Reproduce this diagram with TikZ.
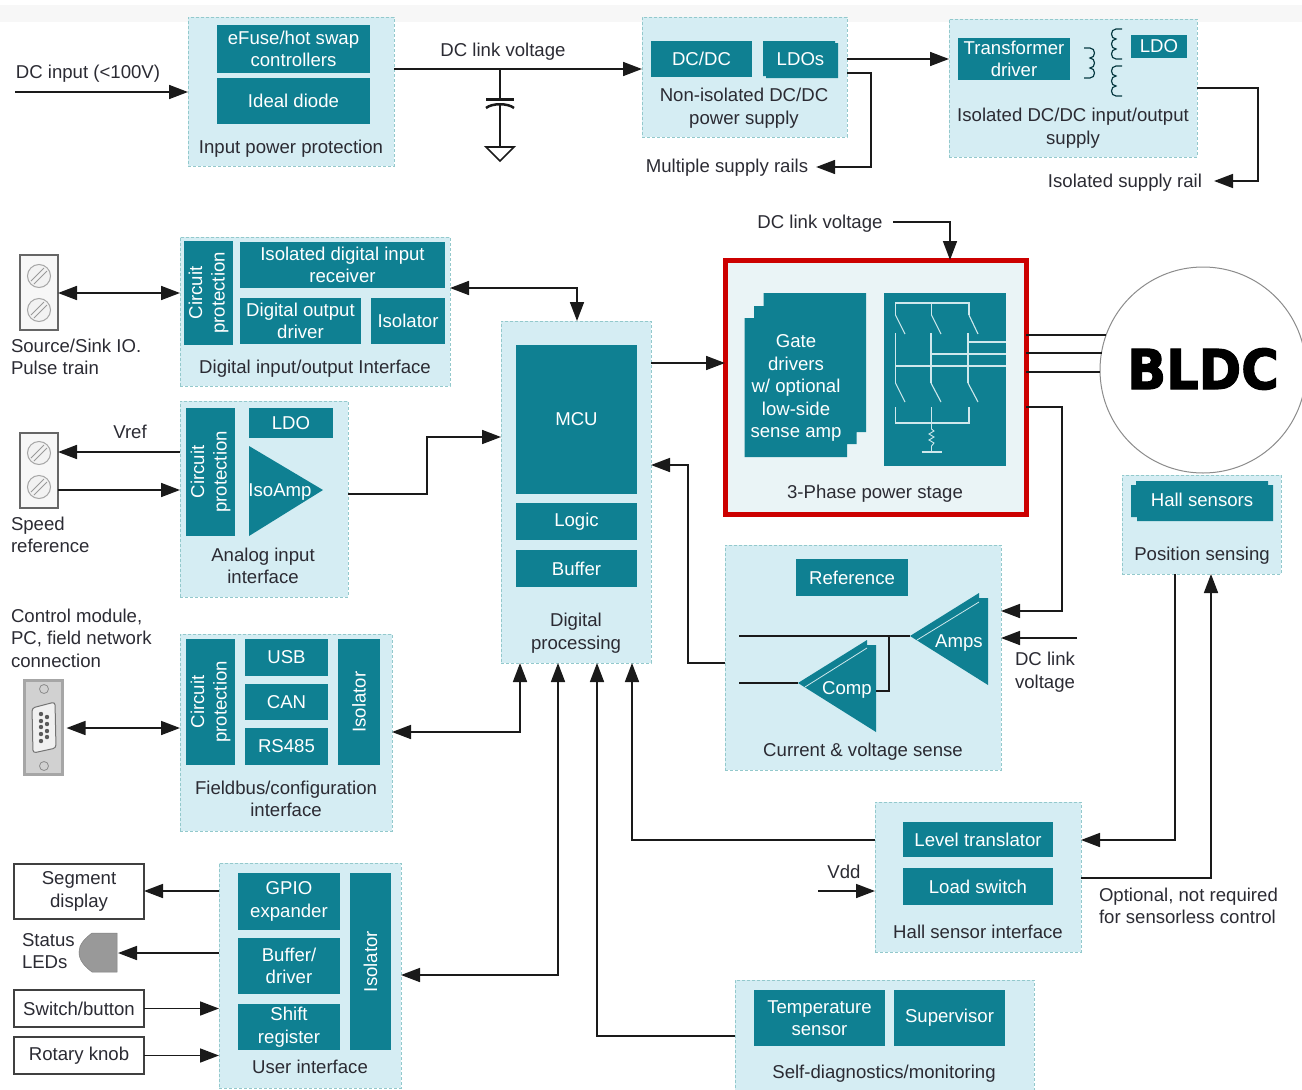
\documentclass[tikz,border=0pt]{standalone}
\usepackage{fontspec}
\setmainfont{Liberation Sans}
\newfontfamily\heavyfont[BoldFeatures={FakeBold=2.2}]{DejaVu Sans}
\usetikzlibrary{arrows.meta,calc}
\definecolor{tealc}{HTML}{0F8092}
\definecolor{grpfill}{HTML}{D5EDF3}
\definecolor{grpline}{HTML}{93C9CC}
\definecolor{txt}{HTML}{2B2B33}
\definecolor{wire}{HTML}{1A1A1A}
\definecolor{thinc}{HTML}{CFE8EC}
\tikzset{
  base/.style={inner sep=0pt,outer sep=0pt,align=center,font=\fontsize{18.6}{22.5}\selectfont},
  grp/.style={base,fill=grpfill,draw=grpline,dash pattern=on 3pt off 2pt,line width=.9pt},
  tbox/.style={base,fill=tealc,text=white},
  tlabel/.style={base,text=white},
  capt/.style={base,text=txt},
  lcapt/.style={base,text=txt,anchor=west,align=left},
  wbox/.style={base,text=txt,fill=white,draw=black!75,line width=1.2pt},
  conn/.style={draw=wire,line width=1.7pt},
  ar/.style={conn,-{Triangle[length=19pt,width=14pt]}},
  ara/.style={conn,{Triangle[length=19pt,width=14pt]}-{Triangle[length=19pt,width=14pt]}},
  swl/.style={draw=thinc,line width=1.1pt},
  coil/.style={draw=black!55!tealc,line width=1.2pt},
}
\newcommand{\mybox}[7]{%
  \pgfmathsetmacro\bw{#5-#3}\pgfmathsetmacro\bh{#6-#4}%
  \pgfmathsetmacro\bx{(#3+#5)/2}\pgfmathsetmacro\by{(#4+#6)/2}%
  \node[#1,minimum width=\bw pt,minimum height=\bh pt] (#2) at (\bx,\by) {#7};}
\newcommand{\rotbox}[7]{%
  \pgfmathsetmacro\bw{#5-#3}\pgfmathsetmacro\bh{#6-#4}%
  \pgfmathsetmacro\bx{(#3+#5)/2}\pgfmathsetmacro\by{(#4+#6)/2}%
  \node[#1,rotate=90,minimum width=\bh pt,minimum height=\bw pt] (#2) at (\bx,\by) {#7};}
\newcommand{\screw}[2]{%
  \draw[black!35,fill=black!5,line width=1pt] (#1,#2) circle (11.5);
  \draw[black!40,line width=.9pt] (#1-8,#2+5) -- (#1+5,#2-8) (#1-5,#2+8) -- (#1+8,#2-5);}
% three-bump windings, bulging to the right (R) or to the left (L)
\newcommand{\coilR}[2]{%
  \draw[coil] (#1,#2) -- (#1+6,#2) .. controls (#1+12,#2) and (#1+12,#2+10) .. (#1+6,#2+10)
    .. controls (#1+12,#2+10) and (#1+12,#2+20) .. (#1+6,#2+20)
    .. controls (#1+12,#2+20) and (#1+12,#2+30) .. (#1+6,#2+30) -- (#1,#2+30);}
\newcommand{\coilL}[2]{%
  \draw[coil] (#1,#2) -- (#1-6,#2) .. controls (#1-12,#2) and (#1-12,#2+10) .. (#1-6,#2+10)
    .. controls (#1-12,#2+10) and (#1-12,#2+20) .. (#1-6,#2+20)
    .. controls (#1-12,#2+20) and (#1-12,#2+30) .. (#1-6,#2+30) -- (#1,#2+30);}
\begin{document}
\begin{tikzpicture}[x=1pt,y=-1pt]
\useasboundingbox (0,0) rectangle (1302,1090);
\fill[black!3] (0,5) rectangle (1302,22);

% ---------- groups
\mybox{grp}{gInput}{188}{17}{394}{166}{}
\mybox{grp}{gNon}{642}{17}{847}{137}{}
\mybox{grp}{gIso}{949}{19}{1197}{157}{}
\mybox{grp}{gDio}{180}{237}{450}{386}{}
\mybox{grp}{gAna}{180}{401}{348}{597}{}
\mybox{grp}{gField}{180}{634}{392}{831}{}
\mybox{grp}{gUser}{219}{863}{401}{1088}{}
\mybox{grp}{gProc}{501}{321}{651}{663}{}
\mybox{grp}{gPos}{1122}{475}{1281}{574}{}
\mybox{grp}{gSense}{725}{545}{1001}{770}{}
\mybox{grp}{gHall}{875}{802}{1081}{952}{}
\mybox{grp}{gDiag}{735}{980}{1034}{1092}{}
\mybox{base,fill={rgb,255:red,234;green,244;blue,246},draw={rgb,255:red,204;green,0;blue,0},line width=5pt}{gPower}{725}{260}{1026}{514}{}

% ---------- input protection
\mybox{tbox}{efuse}{217}{25}{370}{73}{eFuse/hot swap\\controllers}
\mybox{tbox}{diode}{217}{78}{370}{124}{Ideal diode}
\node[capt] (cInput) at (291,149) {Input power protection};

% ---------- non-isolated
\mybox{tbox}{dcdc}{651}{41}{752}{77}{DC/DC}
\fill[tealc] (763,41) -- (835,41) -- (835,43) -- (838,43) -- (838,78) -- (766,78) -- (766,76) -- (763,76) -- cycle;
\mybox{tlabel}{ldos}{763}{41}{838}{77}{LDOs}
\node[capt] (cNon) at (744,108) {Non-isolated DC/DC\\power supply};

% ---------- isolated
\mybox{tbox}{tdrv}{958}{38}{1070}{80}{Transformer\\driver}
\mybox{tbox}{ldoi}{1131}{35}{1187}{58}{LDO}
\coilR{1084}{48}
\coilL{1122}{29}
\coilL{1122}{66}
\node[capt] (cIso) at (1073,128) {Isolated DC/DC input/output\\supply};

% ---------- digital IO
\rotbox{tbox}{cp1}{184}{241}{233}{345}{Circuit\\protection}
\mybox{tbox}{isodig}{240}{242}{445}{288}{Isolated digital input\\receiver}
\mybox{tbox}{dod}{240}{298}{361}{344}{Digital output\\driver}
\mybox{tbox}{isol1}{371}{298}{445}{344}{Isolator}
\node[capt] (cDio) at (315,369) {Digital input/output Interface};

% ---------- analog
\rotbox{tbox}{cp2}{186}{408}{235}{536}{Circuit\\protection}
\mybox{tbox}{ldoa}{249}{408}{333}{438}{LDO}
\fill[tealc] (249,446) -- (323,490) -- (249,536) -- cycle;
\node[tlabel] (isoamp) at (280,492) {IsoAmp};
\node[capt] (cAna) at (263,566) {Analog input\\interface};

% ---------- fieldbus
\rotbox{tbox}{cp3}{186}{639}{235}{765}{Circuit\\protection}
\mybox{tbox}{usb}{245}{639}{328}{676}{USB}
\mybox{tbox}{can}{245}{684}{328}{720}{CAN}
\mybox{tbox}{rs}{245}{728}{328}{765}{RS485}
\rotbox{tbox}{isol2}{338}{639}{380}{765}{Isolator}
\node[capt] (cField) at (286,799) {Fieldbus/configuration\\interface};

% ---------- user
\mybox{tbox}{gpio}{238}{873}{340}{930}{GPIO\\expander}
\mybox{tbox}{buf}{238}{938}{340}{994}{Buffer/\\driver}
\mybox{tbox}{shift}{238}{1004}{340}{1050}{Shift\\register}
\rotbox{tbox}{isol3}{350}{873}{391}{1050}{Isolator}
\node[capt] (cUser) at (310,1067) {User interface};

% ---------- processing
\mybox{tbox}{mcu}{516}{345}{637}{494}{MCU}
\mybox{tbox}{logic}{516}{503}{637}{540}{Logic}
\mybox{tbox}{buffer}{516}{550}{637}{587}{Buffer}
\node[capt] (cProc) at (576,633) {Digital\\processing};

% ---------- power stage
\fill[tealc] (763.5,293) -- (866,293) -- (866,432) -- (856.5,432) -- (856.5,444) -- (847,444) -- (847,457) -- (744.5,457) -- (744.5,318) -- (754,318) -- (754,306) -- (763.5,306) -- cycle;
\node[tlabel] (gate) at (796,388) {Gate\\drivers\\w/ optional\\low-side\\sense amp};
\mybox{tbox}{bridge}{884}{293}{1006}{466}{}
\draw[swl] (895.5,315) -- (895.5,303) -- (969,303) -- (969,315) (931.5,303) -- (931.5,315);
\draw[swl] (895.5,315) -- (905,334) (931.5,315) -- (941,334) (969,315) -- (978,334);
\draw[swl] (895.5,333) -- (895.5,383) (931,333) -- (931,383) (968,333) -- (968,383);
\draw[swl] (895.5,366) -- (1006,366) (931,354) -- (1006,354) (968,342) -- (1006,342);
\draw[swl] (895.5,383) -- (905,402) (931,383) -- (941,402) (968,383) -- (978,402);
\draw[swl] (895.5,407) -- (895.5,423) -- (969,423) -- (969,407) (931.5,407) -- (931.5,429);
\draw[swl,line width=.9pt] (931.5,429) -- (934,431) -- (929,434) -- (934,437) -- (929,440) -- (934,443) -- (931.5,446) -- (931.5,452);
\draw[swl,line width=1.4pt] (921.5,452) -- (941.5,452);
\node[capt] (cPower) at (875,494) {3-Phase power stage};

% ---------- motor
\begin{scope}
\clip (1090,250) rectangle (1302,490);
\node[circle,draw=black!45,line width=1pt,fill=white,minimum size=206pt,inner sep=0pt,outer sep=0pt] (motor) at (1203,370) {};
\end{scope}
\node[base,text=black,font=\heavyfont\bfseries\fontsize{55}{55}\selectfont,xscale=.93] (bldc) at (1203,369) {BLDC};

% ---------- position
\fill[tealc] (1136,481) -- (1268,481) -- (1268,485) -- (1273,485) -- (1273,521) -- (1137,521) -- (1137,517) -- (1131,517) -- (1131,485) -- (1136,485) -- cycle;
\node[tlabel] (hall) at (1202,500) {Hall sensors};
\node[capt] (cPos) at (1202,556) {Position sensing};

% ---------- sense
\mybox{tbox}{refb}{796}{559}{908}{596}{Reference}
\fill[tealc] (910,636) -- (979,593) -- (979,598) -- (988,598) -- (988,685) -- cycle;
\draw[swl,line width=.8pt] (917,640) -- (979,602);
\fill[tealc] (798,683) -- (867,640) -- (867,645) -- (876,645) -- (876,732) -- cycle;
\draw[swl,line width=.8pt] (805,687) -- (867,648);
\node[tlabel] (amps) at (959,643) {Amps};
\node[tlabel] (comp) at (847,690) {Comp};
\node[capt] (cSense) at (863,752) {Current \& voltage sense};
\coordinate (ampTip) at (910,636);
\coordinate (compTip) at (798,683);
\coordinate (compOut) at (876,691);
\coordinate (ampIn) at (739,636);
\coordinate (compIn) at (739,683);
\coordinate (tapUp) at (889,636);

% ---------- hall interface
\mybox{tbox}{level}{903}{822}{1053}{857}{Level translator}
\mybox{tbox}{load}{903}{868}{1053}{905}{Load switch}
\node[capt] (cHall) at (978,932) {Hall sensor interface};

% ---------- diagnostics
\mybox{tbox}{temp}{754}{990}{885}{1046}{Temperature\\sensor}
\mybox{tbox}{sup}{894}{990}{1005}{1046}{Supervisor}
\node[capt] (cDiag) at (884,1074) {Self-diagnostics/monitoring};

% ---------- free labels
\node[capt] (lDcIn) at (88,74) {DC input (<100V)};
\node[capt] (lLink) at (503,52) {DC link voltage};
\node[capt] (lRails) at (727,168) {Multiple supply rails};
\node[capt] (lIsoRail) at (1125,183) {Isolated supply rail};
\node[capt] (lLink2) at (820,224) {DC link voltage};
\node[lcapt] (lSrc) at (11,357) {Source/Sink IO.\\Pulse train};
\node[capt] (lVref) at (130,432) {Vref};
\node[lcapt] (lSpeed) at (11,535) {Speed\\reference};
\node[lcapt] (lCtrl) at (11,638) {Control module,\\PC, field network\\connection};
\node[capt] (lLink3) at (1045,672) {DC link\\voltage};
\node[capt] (lVdd) at (844,872) {Vdd};
\node[lcapt] (lOpt) at (1099,906) {Optional, not required\\for sensorless control};
\node[lcapt] (lLed) at (22,951) {Status\\LEDs};

% ---------- outside boxes
\mybox{wbox}{seg}{14}{864}{144}{919}{Segment\\display}
\mybox{wbox}{swb}{14}{990}{144}{1027}{Switch/button}
\mybox{wbox}{knob}{14}{1037}{144}{1074}{Rotary knob}
\draw[black!50,fill=black!40,line width=.5pt] (117,933) -- (92,933) .. controls (84,939) and (79,945) .. (79,952) .. controls (79,960) and (84,966) .. (92,972) -- (117,972) -- cycle;
\coordinate (led) at (118,953);

% terminal blocks
\node[base,draw=black!60,fill=black!3,line width=1.2pt,minimum width=38pt,minimum height=75pt] (tb1) at (39,292.5) {};
\screw{39}{276}\screw{39}{310}
\node[base,draw=black!60,fill=black!3,line width=1.2pt,minimum width=38pt,minimum height=75pt] (tb2) at (39,470.5) {};
\screw{39}{453}\screw{39}{487}

% DB9
\node[base,draw=black!35,line width=3pt,fill=black!18,minimum width=38pt,minimum height=94pt] (db9) at (43.5,727.5) {};
\draw[black!45,line width=.8pt] (44,689) circle (4.5) (44,766) circle (4.5);
\draw[black!55,fill=black!6,line width=1pt,rounded corners=3pt] (32,708) -- (55,702) -- (56,748) -- (33,753) -- cycle;
\foreach \py in {714,721,727,734,741} \fill[black!65] (41,\py) circle (2.2);
\foreach \py in {717,724,731,737} \fill[black!65] (47,\py) circle (2.2);

% ---------- capacitor
\coordinate (capTop) at (500,69);
\coordinate (gnd) at (500,147);
\draw[conn] (capTop) -- (500,99);
\draw[conn,line width=3pt] (486,99) -- (514,99);
\draw[conn,line width=2.5pt] (486,108) .. controls (492,103) and (508,103) .. (514,108);
\draw[conn] (500,104) -- (gnd);
\draw[conn,fill=white] (486,147) -- (514,147) -- (500,161) -- cycle;

% ---------- connectors
\coordinate (dcIn) at (15,92);
\draw[ar] (dcIn) -- (gInput.west |- dcIn);
\draw[ar] (gInput.east |- 0,69) -- (gNon.west |- 0,69);
\draw[ar] (gNon.east |- 0,59) -- (gIso.west |- 0,59);
\draw[ar] (gNon.east |- 0,73) -- (871,73) -- (871,167) -- ($(lRails.east |- 0,167)+(8,0)$);
\draw[ar] (gIso.east |- 0,88) -- (1258,88) -- (1258,181) -- ($(lIsoRail.east |- 0,181)+(12,0)$);
\coordinate (lk) at (893,222);
\draw[ar] (lk) -- (950,222) -- (gPower.north -| 950,0);
\draw[ara] (tb1.east |- 0,293) -- (gDio.west |- 0,293);
\draw[ara] (gDio.east |- 0,288) -- (577,288) -- (577,321);
\draw[ar] (gAna.west |- 0,452) -- (tb2.east |- 0,452);
\draw[ar] (tb2.east |- 0,490) -- (gAna.west |- 0,490);
\draw[ar] (gAna.east |- 0,494) -- (427,494) -- (427,437) -- (gProc.west |- 0,437);
\draw[ar] (gProc.east |- 0,363) -- (gPower.west |- 0,363);
\draw[ara] ($(db9.east |- 0,728)+(4,0)$) -- (gField.west |- 0,728);
\draw[ara] (gField.east |- 0,732) -- (520,732) -- (520,663);
\draw[ara] (gUser.east |- 0,975) -- (558,975) -- (558,663);
\draw[ar] (gDiag.west |- 0,1036) -- (597,1036) -- (597,663);
\draw[ar] (gHall.west |- 0,840) -- (632,840) -- (632,663);
\draw[ar] (gSense.west |- 0,663) -- (688,663) -- (688,465) -- (gProc.east |- 0,465);
\draw[ar] (gPower.east |- 0,407) -- (1062,407) -- (1062,611) -- (gSense.east |- 0,611);
\coordinate (lk3) at (1077,638);
\draw[ar] (lk3) -- (gSense.east |- lk3);
\draw[conn] (ampIn) -- (ampTip);
\draw[conn] (compIn) -- (compTip);
\draw[conn] (compOut) -- (889,691) -- (tapUp);
\draw[conn] (gPower.east |- 0,335) -- (1106,335);
\draw[conn] (gPower.east |- 0,353) -- (1102,353);
\draw[conn] (gPower.east |- 0,372) -- (1100,372);
\draw[ar] (gPos.south -| 1175,0) -- (1175,840) -- (gHall.east |- 0,840);
\draw[ar] (gHall.east |- 0,878) -- (1211,878) -- (gPos.south -| 1211,0);
\coordinate (vdd) at (818,891);
\draw[ar] (vdd) -- (gHall.west |- vdd);
\draw[ar] (gUser.west |- 0,891) -- (seg.east |- 0,891);
\draw[ar] (gUser.west |- 0,953) -- (led);
\draw[ar] (swb.east) -- (gUser.west |- swb.east);
\draw[ar] (knob.east) -- (gUser.west |- knob.east);
\end{tikzpicture}
\end{document}
